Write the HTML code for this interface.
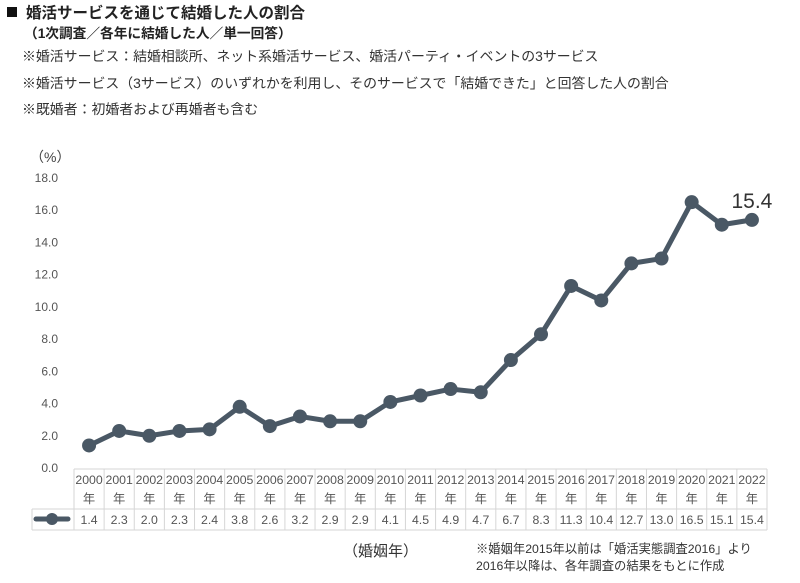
<!DOCTYPE html>
<html><head><meta charset="utf-8"><style>
body{margin:0;background:#fff;width:800px;height:578px;overflow:hidden;font-family:"Liberation Sans","Noto Sans CJK JP",sans-serif;}
svg text{font-family:"Liberation Sans","Noto Sans CJK JP",sans-serif;}
</style></head><body>
<svg id="c" width="800" height="578" xmlns="http://www.w3.org/2000/svg">
<rect x="7" y="7" width="10" height="10" fill="#111"/>
<text x="26" y="18" font-size="15.5" font-weight="bold" fill="#222">婚活サービスを通じて結婚した人の割合</text>
<text x="24" y="38" font-size="13.7" font-weight="bold" fill="#222">（1次調査／各年に結婚した人／単一回答）</text>
<text x="22" y="61" font-size="13.9" fill="#333">※婚活サービス：結婚相談所、ネット系婚活サービス、婚活パーティ・イベントの3サービス</text>
<text x="22" y="88" font-size="13.9" fill="#333">※婚活サービス（3サービス）のいずれかを利用し、そのサービスで「結婚できた」と回答した人の割合</text>
<text x="22" y="114" font-size="13.9" fill="#333">※既婚者：初婚者および再婚者も含む</text>
<text x="30" y="162" font-size="14" fill="#444">（%）</text>
<g id="yt"></g><g id="tbl"></g><g id="plot"></g>
<text x="343" y="556" font-size="15" fill="#333">（婚姻年）</text>
<text x="476" y="553" font-size="12.3" fill="#333">※婚姻年2015年以前は「婚活実態調査2016」より</text>
<text x="476" y="570" font-size="12.3" fill="#333">2016年以降は、各年調査の結果をもとに作成</text>
</svg>
<script>
const years=["2000","2001","2002","2003","2004","2005","2006","2007","2008","2009","2010","2011","2012","2013","2014","2015","2016","2017","2018","2019","2020","2021","2022"];
const values=[1.4,2.3,2.0,2.3,2.4,3.8,2.6,3.2,2.9,2.9,4.1,4.5,4.9,4.7,6.7,8.3,11.3,10.4,12.7,13.0,16.5,15.1,15.4];
const yTicks=[0,2,4,6,8,10,12,14,16,18];
const NS="http://www.w3.org/2000/svg";
const x0=74,cw=30.13,yB=468,yT=178,yMax=18;
const X=i=>x0+cw*(i+0.5);
const Y=v=>yB-(v/yMax)*(yB-yT);
function mk(t,a,p){const e=document.createElementNS(NS,t);for(const k in a)e.setAttribute(k,a[k]);p.appendChild(e);return e;}
const yt=document.getElementById('yt');
yTicks.forEach(v=>{const t=mk('text',{x:58,y:Y(v)+4,'font-size':12,fill:'#555','text-anchor':'end'},yt);t.textContent=v.toFixed(1);

});
const tb=document.getElementById('tbl');
const ln={stroke:'#d6d6d6','stroke-width':1};
mk('line',Object.assign({x1:x0,y1:469,x2:x0+cw*23,y2:469},ln),tb);
mk('line',Object.assign({x1:32,y1:509,x2:x0+cw*23,y2:509},ln),tb);
mk('line',Object.assign({x1:32,y1:530,x2:x0+cw*23,y2:530},ln),tb);
mk('line',Object.assign({x1:32,y1:509,x2:32,y2:530},ln),tb);
for(let i=0;i<=23;i++)mk('line',Object.assign({x1:x0+cw*i,y1:469,x2:x0+cw*i,y2:530},ln),tb);
mk('line',{x1:36,y1:519,x2:68,y2:519,stroke:'#4a5865','stroke-width':5,'stroke-linecap':'round'},tb);
const lc=mk('circle',{cx:52,cy:519,r:6,fill:'#4a5865'},tb);


years.forEach((y,i)=>{
 const a=mk('text',{x:X(i),y:484,'font-size':12.3,fill:'#555','text-anchor':'middle'},tb);a.textContent=y;
 
 
 const b=mk('text',{x:X(i),y:503,'font-size':12.3,fill:'#555','text-anchor':'middle'},tb);b.textContent='年';
 
 
 const c=mk('text',{x:X(i),y:524,'font-size':12.3,fill:'#555','text-anchor':'middle'},tb);c.textContent=values[i].toFixed(1);
 
 
});
const pl=document.getElementById('plot');
const path=mk('polyline',{points:values.map((v,i)=>X(i)+','+Y(v)).join(' '),fill:'none',stroke:'#4a5865','stroke-width':5,'stroke-linejoin':'round'},pl);


values.forEach((v,i)=>{const c=mk('circle',{cx:X(i),cy:Y(v),r:7,fill:'#4a5865'},pl);

});
const n=values.length-1;
const lab=mk('text',{x:X(n),y:Y(values[n])-12,'font-size':21,fill:'#333','text-anchor':'middle'},pl);
lab.textContent=values[n].toFixed(1);


</script>
</body></html>
